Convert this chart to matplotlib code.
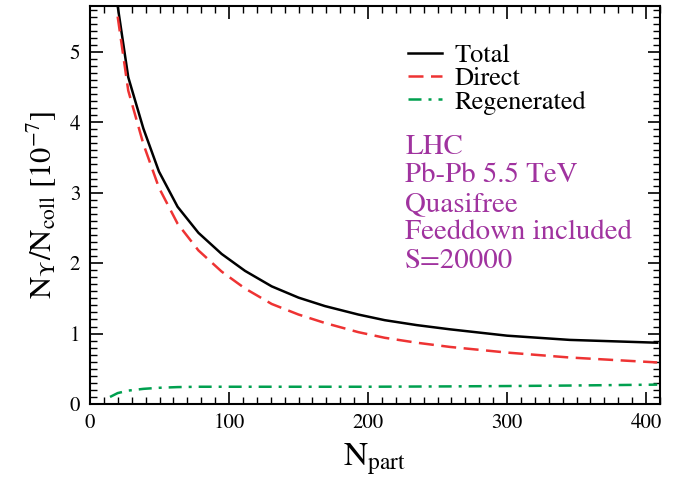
import matplotlib
matplotlib.use("Agg")
import matplotlib.pyplot as plt
from matplotlib.ticker import MultipleLocator

plt.rcParams['font.family'] = ['STIXGeneral', 'DejaVu Serif']
plt.rcParams['mathtext.fontset'] = 'stix'

# Data
npart = [19.9, 27.5, 38.4, 49.6, 63, 78, 94.7, 111.5, 130.7, 150, 169, 193, 212, 235, 259, 300, 345, 408]
total = [5.65, 4.64, 3.91, 3.30, 2.80, 2.43, 2.13, 1.89, 1.67, 1.51, 1.39, 1.27, 1.19, 1.12, 1.06, 0.97, 0.91, 0.87]
direct = [5.50, 4.45, 3.69, 3.07, 2.56, 2.18, 1.88, 1.64, 1.42, 1.27, 1.15, 1.02, 0.94, 0.87, 0.81, 0.73, 0.66, 0.59]
regen_npart = [14.4, 19.9, 27.5, 38.4, 49.6, 63, 78, 100, 150, 200, 259, 300, 345, 408]
regen = [0.10, 0.155, 0.19, 0.215, 0.23, 0.24, 0.245, 0.245, 0.245, 0.245, 0.25, 0.255, 0.262, 0.275]

labels = ['Total', 'Direct', 'Regenerated']
info_lines = ['LHC', 'Pb-Pb 5.5 TeV', 'Quasifree', 'Feeddown included', 'S=20000']

purple = '#a0339f'
red = '#ee3333'
green = '#00a04f'

fig = plt.figure(figsize=(6.81, 4.83), dpi=100)
ax = fig.add_axes([90/681, 1-404/483, 570/681, 398/483])

ax.plot(npart, total, color='black', lw=1.8, label=labels[0])
ax.plot(npart, direct, color=red, lw=1.8, dashes=(6, 3), label=labels[1])
ax.plot(regen_npart, regen, color=green, lw=1.8, dashes=(5.2, 2.8, 1.2, 2.8), label=labels[2])

ax.set_xlim(0, 410)
ax.set_ylim(0, 5.65)
ax.xaxis.set_major_locator(MultipleLocator(100))
ax.xaxis.set_minor_locator(MultipleLocator(10))
ax.yaxis.set_major_locator(MultipleLocator(1))
ax.yaxis.set_minor_locator(MultipleLocator(0.1))
ax.tick_params(which='both', direction='in', top=True, right=True, labelsize=15, pad=7)
ax.tick_params(which='major', length=9, width=1.2)
ax.tick_params(which='minor', length=5, width=1.0)
for s in ax.spines.values():
    s.set_linewidth(1.5)

ax.set_xlabel(r'$\mathrm{N_{part}}$', fontsize=24, labelpad=6)
ax.set_ylabel(r'$\mathrm{N_{\Upsilon}/N_{coll}\ [10^{-7}]}$', fontsize=22, labelpad=8)

leg = ax.legend(loc='upper left', bbox_to_anchor=(0.558, 0.905), frameon=False,
                fontsize=19, handlelength=1.3, handletextpad=0.45, labelspacing=-0.05,
                borderaxespad=0, borderpad=0)

ax.text(0.553, 0.677, '\n'.join(info_lines), transform=ax.transAxes, color=purple,
        fontsize=20.8, va='top', ha='left', linespacing=1.18)

fig.savefig('out.png', dpi=100)
